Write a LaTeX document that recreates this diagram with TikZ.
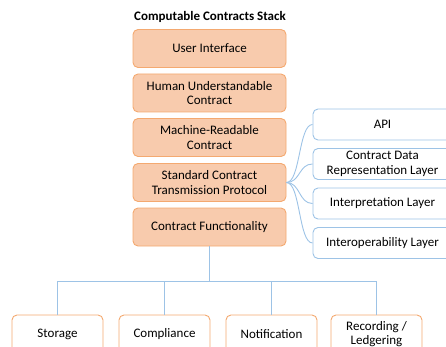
\documentclass[tikz,border=0pt]{standalone}
\usepackage{fontspec}
\setmainfont{Carlito}
\definecolor{orangeF}{HTML}{F8CBAD}
\definecolor{orangeB}{HTML}{F4A970}
\definecolor{blueB}{HTML}{9DC3E6}
\begin{document}
\begin{tikzpicture}[x=1pt,y=-1pt,
 basebox/.style={rounded corners=5pt, line width=0.9pt, align=center, inner sep=0pt, font=\fontsize{13}{14.5}\selectfont},
 obox/.style={basebox, draw=orangeB, fill=orangeF, minimum width=153pt, minimum height=38pt},
 bbox/.style={basebox, draw=blueB, fill=white, minimum width=139pt, minimum height=31pt},
 wbox/.style={basebox, draw=orangeB, fill=white, minimum width=91pt, minimum height=38pt},
 link/.style={draw=blueB, line width=0.9pt}
]
\useasboundingbox (0,0) rectangle (446,347);
\clip (0,0) rectangle (446,347);
\node[font=\bfseries\fontsize{13}{15}\selectfont] (title) at (210,17) {Computable Contracts Stack};
\node[obox] (ui) at (209.5,48.5) {User Interface};
\node[obox] (hu) at (209.5,93) {Human Understandable\\Contract};
\node[obox] (mr) at (209.5,137.5) {Machine-Readable\\Contract};
\node[obox] (sp) at (209.5,182.5) {Standard Contract\\Transmission Protocol};
\node[obox] (cf) at (209.5,227) {Contract Functionality};
\node[bbox] (api) at (382.5,124.5) {API};
\node[bbox] (cdr) at (382.5,164) {Contract Data\\Representation Layer};
\node[bbox] (int) at (382.5,203.5) {Interpretation Layer};
\node[bbox] (iop) at (382.5,243) {Interoperability Layer};
\node[wbox] (st) at (57.5,334) {Storage};
\node[wbox] (co) at (164.5,334) {Compliance};
\node[wbox] (no) at (271.5,334) {Notification};
\node[wbox] (re) at (376.5,334) {Recording /\\Ledgering};
\coordinate (hub) at (209.5,281);
\foreach \t in {api,cdr,int,iop}
  \draw[link] (sp.east) .. controls +(14,0) and +(-14,0) .. (\t.west);
\draw[link] (cf.south) -- (hub);
\draw[link] (st.north) -- (st.north |- hub) -- (re.north |- hub) -- (re.north);
\draw[link] (co.north) -- (co.north |- hub);
\draw[link] (no.north) -- (no.north |- hub);
\end{tikzpicture}
\end{document}
